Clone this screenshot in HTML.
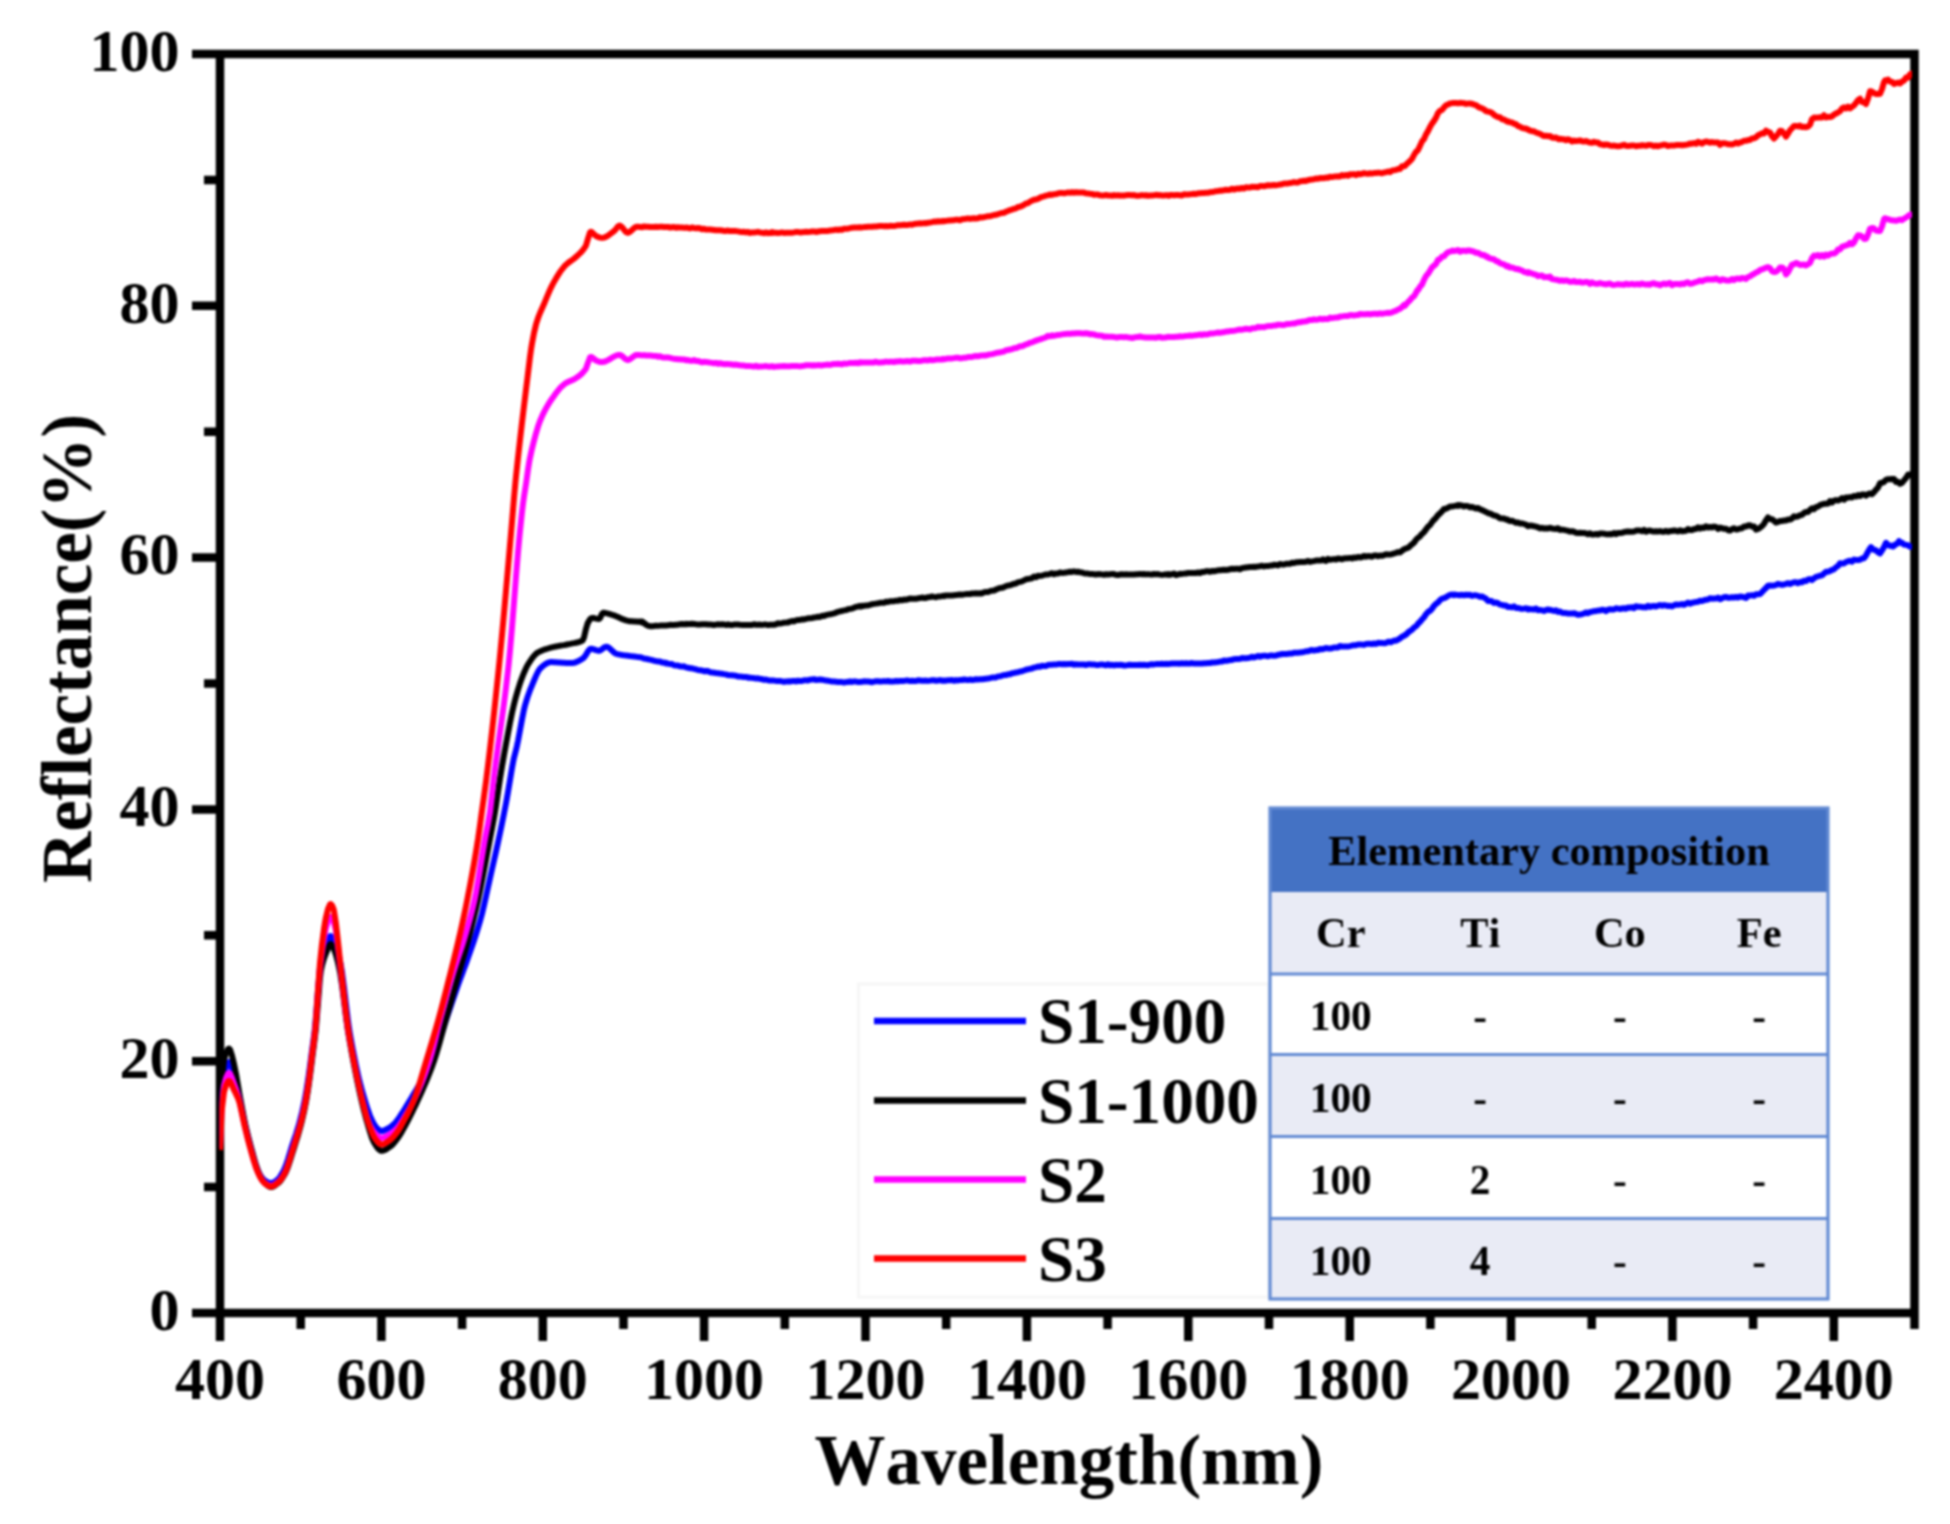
<!DOCTYPE html>
<html lang="en"><head><meta charset="utf-8"><title>Reflectance spectra</title>
<style>
html,body{margin:0;padding:0;background:#fff;}
body{width:1950px;height:1524px;overflow:hidden;}
svg{display:block;filter:blur(1.1px);}
text{font-family:"Liberation Serif","Times New Roman",serif;font-weight:bold;fill:#000;font-kerning:none;}
.tick text{font-size:60px;}
.ttl{font-size:71px;}
.leg text{font-size:65.2px;}
.tb text{font-size:42.4px;}
.tb text.td{font-size:41.3px;}
</style></head>
<body>
<svg width="1950" height="1524" viewBox="0 0 1950 1524">
<rect width="1950" height="1524" fill="#fff"/>
<g stroke="#000" stroke-width="8.5" fill="none" stroke-linecap="butt">
<path d="M192.0 54.0 H1918.75 M192.0 1313.0 H1918.75 M220.0 49.75 V1341.0 M1914.5 49.75 V1329.0"/>
<path d="M204.0 1187.1 H220.0 M192.0 1061.2 H220.0 M204.0 935.3 H220.0 M192.0 809.4 H220.0 M204.0 683.5 H220.0 M192.0 557.6 H220.0 M204.0 431.7 H220.0 M192.0 305.8 H220.0 M204.0 179.9 H220.0"/>
<path d="M300.7 1313.0 V1329.0 M381.4 1313.0 V1341.0 M462.1 1313.0 V1329.0 M542.8 1313.0 V1341.0 M623.5 1313.0 V1329.0 M704.1 1313.0 V1341.0 M784.8 1313.0 V1329.0 M865.5 1313.0 V1341.0 M946.2 1313.0 V1329.0 M1026.9 1313.0 V1341.0 M1107.6 1313.0 V1329.0 M1188.3 1313.0 V1341.0 M1269.0 1313.0 V1329.0 M1349.7 1313.0 V1341.0 M1430.4 1313.0 V1329.0 M1511.0 1313.0 V1341.0 M1591.7 1313.0 V1329.0 M1672.4 1313.0 V1341.0 M1753.1 1313.0 V1329.0 M1833.8 1313.0 V1341.0"/>
</g>
<g class="tick">
<text x="179.5" y="1329.8" text-anchor="end">0</text>
<text x="179.5" y="1078.0" text-anchor="end">20</text>
<text x="179.5" y="826.2" text-anchor="end">40</text>
<text x="179.5" y="574.4" text-anchor="end">60</text>
<text x="179.5" y="322.6" text-anchor="end">80</text>
<text x="179.5" y="70.8" text-anchor="end">100</text>
<text x="220.0" y="1399" text-anchor="middle">400</text>
<text x="381.4" y="1399" text-anchor="middle">600</text>
<text x="542.8" y="1399" text-anchor="middle">800</text>
<text x="704.1" y="1399" text-anchor="middle">1000</text>
<text x="865.5" y="1399" text-anchor="middle">1200</text>
<text x="1026.9" y="1399" text-anchor="middle">1400</text>
<text x="1188.3" y="1399" text-anchor="middle">1600</text>
<text x="1349.7" y="1399" text-anchor="middle">1800</text>
<text x="1511.0" y="1399" text-anchor="middle">2000</text>
<text x="1672.4" y="1399" text-anchor="middle">2200</text>
<text x="1833.8" y="1399" text-anchor="middle">2400</text>
</g>
<text class="ttl" x="1069" y="1484" text-anchor="middle">Wavelength(nm)</text>
<text class="ttl" transform="translate(91 648.5) rotate(-90)" text-anchor="middle">Reflectance(%)</text>
<clipPath id="pc"><rect x="219.5" y="58" width="1692.5" height="1255"/></clipPath>
<g fill="none" stroke-width="6" stroke-linejoin="round" stroke-linecap="butt" clip-path="url(#pc)">
<path stroke="#0000ff" d="M220.0 1135.0 L221.5 1100.0 L222.0 1093.1 L224.0 1075.0 L226.0 1067.2 L228.0 1062.6 L229.0 1062.0 L230.0 1062.8 L232.0 1068.2 L234.0 1075.0 L236.0 1082.1 L238.0 1090.4 L239.5 1097.0 L240.0 1099.3 L242.0 1109.5 L244.0 1119.8 L244.8 1123.5 L246.0 1128.7 L248.0 1136.8 L250.0 1144.4 L250.7 1147.0 L252.0 1151.8 L254.0 1159.2 L256.0 1165.9 L258.0 1171.0 L260.0 1174.8 L262.0 1177.9 L264.0 1180.0 L266.0 1181.4 L268.0 1182.5 L270.0 1183.1 L270.9 1183.2 L272.0 1183.1 L274.0 1182.2 L276.0 1180.9 L277.5 1179.7 L278.0 1179.3 L280.0 1176.9 L282.0 1173.7 L284.0 1170.0 L286.0 1165.2 L288.0 1159.1 L290.0 1152.5 L292.0 1146.0 L294.0 1140.0 L296.0 1134.1 L298.0 1127.7 L299.2 1123.5 L300.0 1120.5 L302.0 1112.5 L304.0 1103.5 L304.7 1100.0 L306.0 1092.9 L308.0 1080.3 L308.5 1077.0 L310.0 1066.0 L311.6 1053.6 L312.0 1050.6 L314.0 1035.9 L314.7 1030.0 L316.0 1016.0 L318.0 989.8 L320.0 968.0 L320.6 964.0 L322.0 957.3 L324.0 950.1 L326.0 944.7 L326.3 944.0 L328.0 939.8 L330.0 936.3 L330.7 936.0 L332.0 937.1 L334.0 941.5 L335.0 944.0 L336.0 946.6 L338.0 953.1 L340.0 961.2 L340.6 964.0 L342.0 972.1 L344.0 987.3 L346.0 1004.4 L348.0 1020.9 L349.3 1030.0 L350.0 1034.3 L352.0 1045.4 L353.6 1053.6 L354.0 1055.6 L356.0 1065.6 L358.0 1074.7 L358.6 1077.3 L360.0 1082.9 L362.0 1090.4 L364.0 1097.3 L364.2 1098.0 L366.0 1104.0 L368.0 1110.3 L370.0 1115.8 L370.5 1117.0 L372.0 1120.3 L374.0 1124.2 L376.0 1127.0 L378.0 1129.0 L380.0 1130.6 L381.5 1131.0 L382.0 1131.0 L384.0 1130.5 L386.0 1129.6 L388.0 1128.5 L390.0 1127.3 L392.0 1125.8 L394.0 1124.0 L395.0 1123.0 L396.0 1121.9 L398.0 1119.3 L400.0 1116.3 L401.5 1114.0 L402.0 1113.3 L404.0 1110.2 L406.0 1106.9 L408.0 1103.6 L410.0 1100.3 L412.0 1096.9 L412.5 1096.0 L414.0 1093.5 L416.0 1090.2 L418.0 1086.9 L420.0 1083.6 L422.0 1080.3 L424.0 1076.9 L426.0 1073.3 L428.0 1069.5 L430.0 1065.5 L432.0 1061.3 L433.0 1059.0 L434.0 1056.6 L436.0 1051.2 L438.0 1045.3 L440.0 1039.0 L442.0 1032.5 L444.0 1026.1 L446.0 1020.0 L448.0 1014.1 L450.0 1008.2 L452.0 1002.3 L454.0 996.5 L456.0 990.7 L458.0 985.0 L460.0 979.5 L462.0 974.1 L464.0 968.8 L466.0 963.4 L468.0 957.8 L468.3 956.9 L470.0 952.0 L472.0 946.2 L474.0 940.4 L476.0 934.3 L478.0 927.9 L480.0 921.1 L481.0 917.5 L482.0 913.7 L484.0 905.3 L486.0 896.3 L488.0 887.1 L490.0 878.0 L492.0 869.2 L494.0 860.4 L496.0 851.5 L498.0 842.4 L498.8 838.7 L500.0 833.0 L502.0 823.4 L504.0 813.5 L506.0 803.2 L506.7 799.4 L508.0 791.9 L510.0 780.0 L512.0 768.1 L513.5 760.0 L514.0 757.7 L516.0 749.9 L516.9 746.2 L518.0 741.0 L520.0 730.3 L522.0 719.4 L524.0 709.5 L525.1 705.1 L526.0 702.0 L528.0 695.7 L530.0 690.2 L532.0 685.3 L532.3 684.6 L534.0 680.5 L536.0 675.8 L538.0 671.7 L540.0 668.7 L540.5 668.2 L542.0 666.8 L544.0 665.1 L546.0 663.7 L548.0 662.7 L550.0 662.2 L550.8 662.1 L552.0 662.1 L554.0 662.2 L556.0 662.3 L558.0 662.4 L560.0 662.5 L562.0 662.7 L564.0 662.8 L566.0 662.9 L568.0 663.0 L570.0 663.1 L571.3 663.1 L572.0 663.1 L574.0 662.8 L576.0 662.1 L578.0 661.3 L580.0 660.2 L582.0 658.9 L583.6 657.9 L584.0 657.6 L586.0 654.8 L588.0 651.3 L590.0 649.0 L590.8 648.7 L592.0 648.8 L594.0 649.4 L596.0 650.2 L598.0 650.7 L599.0 650.8 L600.0 650.6 L602.0 649.3 L604.0 647.6 L606.0 646.7 L606.2 646.7 L608.0 647.2 L610.0 648.7 L612.0 650.6 L614.0 652.4 L616.0 653.7 L616.4 653.8 L618.0 654.2 L620.0 654.6 L622.0 655.0 L624.0 655.3 L626.0 655.5 L628.0 655.7 L630.0 656.0 L632.0 656.2 L634.0 656.4 L636.0 656.7 L636.9 656.9 L638.0 657.1 L640.0 657.2 L642.0 657.6 L644.0 658.6 L646.0 658.8 L648.0 659.2 L650.0 659.6 L652.0 660.1 L654.0 660.7 L656.0 661.1 L658.0 661.5 L660.0 661.6 L662.0 662.5 L664.0 662.6 L665.6 663.4 L666.0 662.9 L668.0 663.6 L670.0 664.0 L672.0 664.1 L674.0 665.3 L676.0 665.6 L678.0 665.6 L680.0 666.3 L682.0 666.6 L684.0 666.3 L686.0 667.4 L688.0 667.8 L690.0 668.2 L692.0 668.3 L694.0 668.9 L696.0 669.3 L698.0 670.0 L700.0 670.2 L702.0 670.5 L704.0 671.2 L706.0 671.0 L706.7 671.2 L708.0 671.1 L710.0 672.2 L712.0 672.4 L714.0 672.7 L716.0 673.0 L718.0 673.2 L720.0 673.5 L722.0 673.7 L724.0 674.1 L726.0 674.4 L728.0 675.1 L730.0 675.2 L732.0 675.3 L734.0 675.5 L736.0 675.7 L738.0 676.6 L740.0 676.6 L742.0 676.7 L744.0 676.9 L746.0 676.9 L747.7 677.4 L748.0 677.7 L750.0 677.6 L752.0 677.9 L754.0 678.1 L756.0 678.5 L758.0 678.3 L760.0 678.9 L762.0 679.1 L764.0 679.8 L766.0 679.6 L768.0 680.2 L770.0 680.6 L772.0 680.4 L774.0 680.6 L776.0 680.9 L778.0 681.1 L780.0 681.0 L782.0 681.4 L784.0 681.9 L786.0 681.4 L788.0 681.4 L788.7 681.2 L790.0 681.6 L792.0 681.1 L794.0 681.0 L796.0 681.4 L798.0 680.7 L800.0 681.0 L802.0 680.9 L804.0 680.3 L806.0 680.2 L808.0 680.4 L810.0 679.7 L812.0 679.4 L814.0 679.2 L815.4 679.5 L816.0 679.9 L818.0 679.8 L820.0 679.5 L822.0 679.7 L824.0 680.1 L826.0 680.6 L828.0 680.7 L830.0 681.1 L832.0 681.5 L834.0 681.6 L836.0 681.8 L838.0 682.0 L840.0 682.0 L842.0 682.1 L844.0 682.5 L846.0 682.1 L848.0 682.0 L850.0 681.5 L852.0 682.0 L854.0 681.4 L856.0 681.5 L858.0 682.1 L860.0 682.0 L862.0 681.8 L864.0 681.3 L866.0 681.6 L868.0 681.5 L870.0 681.8 L872.0 682.2 L874.0 681.6 L876.0 681.3 L878.0 681.2 L880.0 681.4 L882.0 681.4 L884.0 681.1 L886.0 681.4 L888.0 681.0 L890.0 681.5 L892.0 681.5 L894.0 681.4 L896.0 681.0 L898.0 681.2 L900.0 681.0 L902.0 680.9 L904.0 680.9 L906.0 680.6 L908.0 680.5 L910.0 681.1 L912.0 680.8 L914.0 680.9 L916.0 681.0 L918.0 680.3 L920.0 680.5 L922.0 680.7 L924.0 680.8 L926.0 680.6 L928.0 680.9 L930.0 680.6 L932.0 680.3 L934.0 680.3 L936.0 680.7 L938.0 680.6 L940.0 680.0 L942.0 680.7 L944.0 680.5 L946.0 680.7 L948.0 680.2 L950.0 680.2 L952.0 680.0 L954.0 680.8 L956.0 680.1 L958.0 680.5 L960.0 679.9 L962.0 680.0 L964.0 679.5 L966.0 679.8 L968.0 680.1 L970.0 679.5 L972.0 680.0 L974.0 679.7 L976.0 679.3 L978.0 679.4 L980.0 679.3 L982.0 679.3 L984.0 679.0 L986.0 678.7 L988.0 678.6 L990.0 678.1 L992.0 677.6 L994.0 677.6 L996.0 677.4 L998.0 676.4 L1000.0 676.3 L1002.0 675.7 L1004.0 675.1 L1006.0 675.1 L1008.0 674.3 L1010.0 674.3 L1012.0 673.3 L1014.0 673.1 L1014.9 672.7 L1016.0 672.4 L1018.0 672.2 L1020.0 671.5 L1022.0 671.2 L1024.0 670.5 L1026.0 669.7 L1028.0 669.3 L1030.0 668.8 L1032.0 668.5 L1034.0 667.6 L1036.0 667.3 L1038.0 666.5 L1040.0 666.7 L1041.5 666.0 L1042.0 665.8 L1044.0 665.9 L1046.0 665.9 L1048.0 665.0 L1050.0 664.8 L1052.0 664.7 L1054.0 664.4 L1056.0 664.6 L1058.0 664.1 L1060.0 664.1 L1062.0 664.3 L1064.0 664.0 L1066.0 664.3 L1068.0 664.0 L1070.0 663.9 L1072.0 663.8 L1074.0 664.7 L1076.0 664.2 L1078.0 664.4 L1080.0 664.4 L1082.0 664.5 L1084.0 664.5 L1086.0 665.0 L1088.0 664.3 L1090.0 664.2 L1092.0 664.4 L1094.0 664.4 L1096.0 664.9 L1098.0 665.0 L1100.0 664.6 L1102.0 664.5 L1104.0 664.8 L1106.0 665.3 L1108.0 664.3 L1110.0 665.2 L1112.0 664.8 L1114.0 665.4 L1116.0 664.8 L1118.0 665.1 L1120.0 664.8 L1122.0 664.9 L1124.0 665.6 L1126.0 665.4 L1127.7 665.1 L1128.0 665.0 L1130.0 664.7 L1132.0 665.1 L1134.0 665.1 L1136.0 665.1 L1138.0 665.0 L1140.0 664.7 L1142.0 664.9 L1144.0 664.8 L1146.0 665.1 L1148.0 665.2 L1150.0 664.5 L1152.0 664.3 L1154.0 664.4 L1156.0 664.1 L1158.0 664.0 L1160.0 664.1 L1162.0 663.7 L1164.0 664.1 L1166.0 663.8 L1168.0 663.9 L1170.0 663.7 L1172.0 663.5 L1174.0 663.4 L1176.0 663.5 L1178.0 663.4 L1179.0 663.7 L1180.0 663.6 L1182.0 663.2 L1184.0 663.6 L1186.0 663.2 L1188.0 663.4 L1190.0 663.5 L1192.0 663.0 L1194.0 663.6 L1196.0 663.6 L1198.0 663.6 L1200.0 663.5 L1202.0 663.5 L1204.0 663.2 L1206.0 663.3 L1208.0 663.1 L1210.0 663.1 L1212.0 662.4 L1214.0 662.6 L1216.0 662.3 L1218.0 662.0 L1220.0 661.6 L1222.0 661.6 L1224.0 660.5 L1226.0 660.9 L1228.0 660.5 L1230.0 660.1 L1232.0 659.9 L1234.0 659.2 L1236.0 659.1 L1238.0 659.1 L1240.0 658.8 L1241.0 658.6 L1242.0 657.9 L1244.0 658.3 L1246.0 658.3 L1248.0 658.1 L1250.0 657.6 L1252.0 656.8 L1254.0 657.5 L1256.0 656.9 L1258.0 655.9 L1260.0 656.7 L1262.0 655.9 L1264.0 655.8 L1266.0 655.8 L1268.0 656.3 L1270.0 655.5 L1272.0 655.5 L1274.0 655.8 L1276.0 655.6 L1278.0 654.8 L1280.0 654.5 L1282.0 654.0 L1284.0 653.9 L1286.0 654.1 L1288.0 653.8 L1290.0 653.5 L1292.0 653.6 L1294.0 652.7 L1296.0 652.7 L1298.0 652.7 L1300.0 652.4 L1302.0 652.3 L1304.0 651.8 L1306.0 651.3 L1308.0 651.3 L1310.0 650.5 L1312.0 650.0 L1314.0 650.6 L1316.0 650.1 L1318.0 650.0 L1320.0 649.0 L1322.0 649.2 L1323.0 649.0 L1324.0 648.8 L1326.0 648.0 L1328.0 648.4 L1330.0 648.6 L1332.0 648.2 L1334.0 647.5 L1336.0 647.5 L1338.0 647.5 L1340.0 645.9 L1342.0 646.6 L1344.0 646.6 L1346.0 646.4 L1348.0 646.5 L1350.0 646.1 L1352.0 645.5 L1354.0 645.3 L1356.0 645.2 L1358.0 644.5 L1360.0 644.5 L1362.0 644.6 L1364.0 644.9 L1366.0 643.9 L1368.0 643.8 L1370.0 643.7 L1372.0 644.1 L1374.0 643.4 L1376.0 643.9 L1378.0 642.8 L1380.0 643.0 L1382.0 642.9 L1384.0 643.2 L1386.0 643.1 L1388.0 641.8 L1390.0 641.8 L1390.8 642.2 L1392.0 641.6 L1394.0 640.6 L1396.0 640.8 L1398.0 639.6 L1400.0 638.4 L1402.0 636.7 L1404.0 636.0 L1405.1 634.8 L1406.0 634.8 L1408.0 632.5 L1410.0 631.0 L1412.0 629.7 L1414.0 627.5 L1416.0 626.2 L1417.4 624.7 L1418.0 623.6 L1420.0 621.9 L1422.0 619.3 L1424.0 617.4 L1426.0 614.2 L1428.0 612.0 L1429.7 610.8 L1430.0 610.9 L1432.0 608.7 L1434.0 605.8 L1436.0 603.8 L1438.0 602.5 L1440.0 600.1 L1442.0 598.6 L1444.0 598.1 L1446.0 597.3 L1448.0 595.9 L1450.0 594.9 L1452.0 594.5 L1454.0 595.2 L1454.4 594.6 L1456.0 594.8 L1458.0 595.0 L1460.0 595.2 L1462.0 594.8 L1464.0 595.3 L1466.0 594.7 L1468.0 595.0 L1470.0 594.8 L1472.0 595.9 L1474.0 595.4 L1474.9 595.2 L1476.0 595.4 L1478.0 595.9 L1480.0 596.9 L1482.0 596.5 L1484.0 597.6 L1486.0 598.7 L1488.0 600.9 L1490.0 601.0 L1491.3 600.9 L1492.0 601.6 L1494.0 602.9 L1496.0 602.5 L1498.0 603.2 L1500.0 604.6 L1502.0 604.9 L1504.0 605.6 L1506.0 605.6 L1507.7 607.1 L1508.0 607.1 L1510.0 606.9 L1512.0 607.4 L1514.0 606.4 L1516.0 608.0 L1518.0 607.9 L1520.0 608.5 L1522.0 608.9 L1524.0 608.6 L1526.0 608.2 L1528.0 609.4 L1528.2 608.8 L1530.0 609.2 L1532.0 609.2 L1534.0 609.4 L1536.0 608.5 L1538.0 610.3 L1540.0 609.9 L1542.0 610.4 L1544.0 611.0 L1546.0 610.1 L1548.0 609.4 L1548.7 609.9 L1550.0 609.8 L1552.0 610.4 L1554.0 611.0 L1556.0 610.3 L1558.0 611.9 L1560.0 611.4 L1562.0 612.7 L1564.0 612.9 L1566.0 613.1 L1568.0 613.5 L1570.0 613.5 L1572.0 613.6 L1574.0 613.2 L1576.0 613.9 L1578.0 614.8 L1580.0 614.6 L1582.0 614.1 L1584.0 613.5 L1586.0 612.4 L1588.0 613.2 L1590.0 612.0 L1592.0 611.7 L1594.0 611.2 L1596.0 611.1 L1598.0 610.5 L1600.0 610.5 L1602.0 609.7 L1604.0 609.9 L1606.0 611.1 L1608.0 609.6 L1610.0 609.3 L1612.0 609.5 L1614.0 609.5 L1616.0 608.3 L1618.0 608.6 L1620.0 609.0 L1622.0 608.5 L1624.0 608.2 L1626.0 608.8 L1628.0 607.5 L1630.0 607.7 L1632.0 607.3 L1634.0 608.2 L1636.0 606.2 L1638.0 606.8 L1640.0 606.7 L1642.0 607.2 L1644.0 607.1 L1646.0 607.4 L1648.0 605.7 L1650.0 606.9 L1652.0 606.2 L1654.0 606.0 L1656.0 606.5 L1658.0 605.7 L1660.0 605.0 L1662.0 605.8 L1664.0 605.1 L1666.0 605.5 L1668.0 606.0 L1670.0 605.8 L1672.0 606.4 L1674.0 605.3 L1676.0 604.4 L1678.0 604.7 L1680.0 604.5 L1682.0 604.1 L1684.0 604.8 L1686.0 603.8 L1688.0 602.6 L1690.0 603.7 L1692.0 602.8 L1694.0 602.5 L1696.0 601.9 L1698.0 601.7 L1700.0 600.8 L1702.0 601.1 L1704.0 600.2 L1706.0 599.8 L1708.0 599.5 L1710.0 598.2 L1712.0 598.7 L1714.0 598.5 L1716.0 598.6 L1718.0 597.6 L1720.0 599.2 L1722.0 598.2 L1724.0 597.3 L1726.0 596.9 L1728.0 597.7 L1730.0 597.7 L1732.0 597.2 L1734.0 597.5 L1736.0 597.0 L1738.0 597.5 L1740.0 596.6 L1742.0 596.8 L1744.0 597.2 L1746.0 598.0 L1748.0 595.6 L1750.0 595.7 L1752.0 595.2 L1754.0 595.8 L1756.0 594.3 L1758.0 594.2 L1760.0 594.0 L1762.0 592.1 L1764.0 589.9 L1766.0 588.0 L1768.0 585.7 L1770.0 585.5 L1772.0 585.7 L1774.0 585.6 L1776.0 585.0 L1778.0 583.8 L1780.0 584.3 L1782.0 584.9 L1784.0 584.5 L1786.0 583.9 L1788.0 583.2 L1790.0 583.9 L1792.0 583.0 L1794.0 582.3 L1796.0 582.3 L1798.0 583.3 L1800.0 582.1 L1802.0 582.3 L1804.0 580.7 L1806.0 581.1 L1808.0 579.5 L1810.0 579.1 L1812.0 580.1 L1814.0 578.3 L1816.0 576.8 L1818.0 576.3 L1820.0 575.7 L1822.0 575.4 L1824.0 573.5 L1826.0 571.8 L1828.0 571.8 L1830.0 571.0 L1832.0 569.9 L1834.0 569.3 L1836.0 567.2 L1838.0 566.0 L1840.0 563.3 L1842.0 563.4 L1844.0 563.4 L1846.0 562.0 L1848.0 561.2 L1850.0 560.8 L1852.0 561.6 L1854.0 559.6 L1856.0 559.9 L1858.0 559.9 L1860.0 559.7 L1862.0 558.4 L1864.0 558.2 L1866.0 555.4 L1868.0 551.7 L1870.0 548.4 L1871.0 547.2 L1872.0 548.2 L1874.0 549.9 L1876.0 550.3 L1878.0 552.2 L1880.0 553.4 L1882.0 550.3 L1884.0 547.1 L1886.0 542.8 L1887.0 543.8 L1888.0 544.8 L1890.0 545.9 L1892.0 545.6 L1893.0 546.5 L1894.0 545.8 L1896.0 544.1 L1898.0 543.3 L1899.0 541.1 L1900.0 542.8 L1902.0 542.7 L1904.0 544.6 L1906.0 544.9 L1908.0 545.2 L1909.0 546.2 L1910.0 546.8 L1912.0 546.7 L1914.0 547.3"/>
<path stroke="#000000" d="M220.0 1120.0 L221.5 1085.0 L222.0 1078.1 L224.0 1060.0 L226.0 1053.1 L228.0 1049.1 L229.0 1048.5 L230.0 1049.5 L232.0 1055.7 L234.0 1064.0 L236.0 1073.8 L238.0 1085.6 L239.8 1096.0 L240.0 1097.1 L242.0 1107.9 L244.0 1118.3 L245.3 1124.5 L246.0 1127.6 L248.0 1135.9 L250.0 1143.6 L251.2 1148.0 L252.0 1150.9 L254.0 1158.2 L256.0 1165.0 L258.0 1170.8 L258.7 1172.5 L260.0 1175.4 L262.0 1179.2 L264.0 1182.2 L264.5 1182.7 L266.0 1184.1 L268.0 1185.8 L270.0 1186.9 L271.0 1187.0 L272.0 1186.9 L274.0 1186.1 L276.0 1184.7 L278.0 1183.2 L280.0 1181.3 L282.0 1178.7 L284.0 1175.5 L285.4 1173.0 L286.0 1171.8 L288.0 1166.9 L290.0 1160.9 L292.0 1154.4 L294.0 1148.0 L296.0 1141.7 L298.0 1135.3 L300.0 1128.3 L301.0 1124.5 L302.0 1120.5 L304.0 1111.9 L306.0 1102.0 L306.2 1100.9 L308.0 1089.9 L309.8 1077.3 L310.0 1075.8 L312.0 1060.0 L312.8 1053.6 L314.0 1044.5 L315.8 1030.0 L316.0 1028.1 L318.0 1002.9 L320.0 977.7 L321.0 970.0 L322.0 965.4 L324.0 958.4 L326.0 953.2 L326.5 952.0 L328.0 948.2 L330.0 944.4 L330.7 944.0 L332.0 945.1 L334.0 949.4 L335.0 952.0 L336.0 954.9 L338.0 962.5 L339.6 970.0 L340.0 972.1 L342.0 985.2 L344.0 1001.0 L346.0 1017.2 L347.8 1030.0 L348.0 1031.3 L350.0 1043.1 L351.9 1053.6 L352.0 1054.1 L354.0 1064.7 L356.0 1074.8 L356.5 1077.3 L358.0 1084.6 L360.0 1093.9 L361.6 1100.9 L362.0 1102.6 L364.0 1110.7 L366.0 1118.3 L367.8 1124.5 L368.0 1125.2 L370.0 1131.9 L372.0 1138.0 L374.0 1142.5 L376.0 1145.7 L378.0 1148.5 L380.0 1150.3 L381.5 1150.8 L382.0 1150.8 L384.0 1150.3 L386.0 1149.4 L388.0 1148.1 L390.0 1146.8 L392.0 1145.1 L394.0 1143.0 L396.0 1140.4 L398.0 1137.7 L398.5 1137.0 L400.0 1134.8 L402.0 1131.4 L404.0 1127.8 L405.5 1125.0 L406.0 1124.1 L408.0 1120.3 L410.0 1116.4 L412.0 1112.4 L414.0 1108.3 L416.0 1104.1 L416.5 1103.0 L418.0 1099.7 L420.0 1095.4 L422.0 1091.0 L424.0 1086.4 L426.0 1081.8 L428.0 1076.9 L430.0 1071.9 L432.0 1066.6 L434.0 1061.0 L436.0 1054.9 L438.0 1048.2 L440.0 1041.1 L442.0 1033.8 L444.0 1026.5 L445.8 1020.0 L446.0 1019.3 L448.0 1012.2 L450.0 1005.1 L452.0 997.9 L454.0 990.8 L456.0 983.6 L457.0 980.0 L458.0 976.4 L460.0 969.3 L462.0 962.3 L464.0 955.2 L466.0 948.0 L468.0 940.6 L469.2 936.0 L470.0 932.9 L472.0 925.1 L474.0 917.1 L476.0 908.8 L478.0 900.0 L480.0 890.6 L482.0 880.7 L484.0 870.4 L486.0 859.9 L488.0 849.3 L490.0 838.7 L492.0 828.4 L494.0 817.7 L495.0 812.0 L496.0 805.7 L498.0 792.0 L499.8 780.0 L500.0 778.8 L502.0 766.6 L504.0 755.0 L505.6 746.2 L506.0 744.0 L508.0 733.2 L510.0 722.7 L512.0 712.9 L513.8 705.1 L514.0 704.3 L516.0 696.6 L518.0 689.6 L520.0 683.3 L521.0 680.5 L522.0 677.8 L524.0 672.7 L526.0 668.2 L528.0 664.4 L528.2 664.1 L530.0 661.3 L532.0 658.3 L534.0 655.8 L536.0 653.8 L537.4 652.8 L538.0 652.4 L540.0 651.4 L542.0 650.5 L544.0 649.7 L546.0 649.1 L548.0 648.5 L550.0 647.9 L550.8 647.7 L552.0 647.4 L554.0 646.9 L556.0 646.5 L558.0 646.1 L560.0 645.7 L562.0 645.4 L564.0 645.1 L566.0 644.7 L568.0 644.3 L570.0 643.9 L571.3 643.6 L572.0 643.4 L574.0 643.1 L576.0 642.7 L578.0 642.3 L580.0 641.7 L582.0 640.8 L582.6 640.5 L584.0 637.4 L586.0 628.8 L587.7 623.1 L588.0 622.6 L590.0 619.2 L591.8 617.9 L592.0 617.9 L594.0 618.1 L596.0 618.6 L598.0 618.9 L599.0 619.0 L600.0 618.1 L602.0 613.9 L603.1 612.8 L604.0 612.8 L606.0 613.1 L608.0 613.6 L610.0 614.2 L612.0 614.8 L612.3 614.9 L614.0 615.4 L616.0 616.2 L618.0 617.1 L620.0 618.0 L622.0 618.9 L624.0 619.7 L626.0 620.4 L628.0 620.9 L628.7 621.0 L630.0 621.2 L632.0 621.3 L634.0 621.4 L636.0 621.5 L638.0 621.7 L640.0 621.5 L642.0 622.5 L642.1 621.6 L644.0 622.9 L646.0 624.6 L648.0 625.8 L649.2 626.0 L650.0 626.2 L652.0 626.2 L654.0 626.1 L656.0 625.6 L658.0 625.9 L660.0 625.6 L662.0 625.5 L664.0 625.5 L666.0 625.5 L668.0 625.3 L670.0 624.8 L672.0 625.0 L674.0 624.9 L676.0 624.8 L678.0 624.7 L680.0 624.2 L682.0 624.1 L684.0 624.3 L686.0 623.8 L686.2 624.2 L688.0 624.0 L690.0 624.0 L692.0 623.7 L694.0 623.9 L696.0 624.2 L698.0 624.4 L700.0 624.5 L702.0 624.3 L704.0 624.3 L706.0 624.2 L708.0 624.5 L710.0 624.4 L712.0 624.7 L714.0 625.0 L716.0 624.6 L718.0 624.3 L720.0 624.4 L722.0 624.3 L724.0 624.4 L726.0 625.0 L727.2 624.8 L728.0 624.3 L730.0 624.9 L732.0 625.0 L734.0 624.6 L736.0 624.5 L738.0 624.6 L740.0 624.8 L742.0 624.9 L744.0 625.0 L746.0 625.0 L748.0 625.0 L750.0 625.0 L752.0 624.9 L754.0 624.3 L756.0 624.7 L758.0 624.8 L760.0 624.6 L762.0 624.9 L764.0 624.6 L766.0 624.5 L768.0 625.1 L768.2 624.9 L770.0 624.7 L772.0 624.8 L774.0 624.7 L776.0 624.3 L778.0 623.3 L780.0 623.4 L782.0 623.2 L784.0 622.7 L786.0 622.6 L788.0 622.4 L790.0 621.6 L792.0 621.0 L794.0 621.4 L796.0 620.4 L798.0 619.9 L799.0 620.1 L800.0 619.9 L802.0 619.3 L804.0 619.4 L806.0 618.8 L808.0 618.3 L810.0 618.3 L812.0 618.1 L814.0 617.4 L816.0 617.2 L818.0 616.8 L820.0 617.1 L822.0 615.8 L824.0 615.9 L826.0 615.1 L828.0 614.6 L830.0 614.3 L832.0 613.8 L834.0 613.3 L836.0 612.6 L838.0 611.8 L840.0 611.3 L842.0 611.0 L844.0 610.4 L846.0 610.1 L848.0 609.3 L850.0 608.9 L852.0 608.6 L854.0 607.7 L856.0 606.9 L858.0 606.5 L860.0 606.0 L861.0 606.6 L862.0 605.8 L864.0 605.9 L866.0 605.4 L868.0 605.4 L870.0 604.8 L872.0 604.2 L874.0 603.9 L876.0 603.6 L878.0 603.3 L880.0 602.8 L882.0 602.7 L884.0 602.8 L886.0 601.7 L888.0 601.9 L890.0 601.3 L892.0 601.3 L894.0 601.2 L896.0 600.7 L898.0 600.7 L900.0 599.9 L902.0 600.3 L904.0 599.6 L906.0 599.7 L908.0 599.3 L910.0 598.4 L912.0 598.7 L914.0 598.7 L916.0 598.8 L918.0 598.3 L920.0 598.1 L922.0 597.5 L924.0 598.0 L926.0 597.9 L928.0 597.2 L930.0 597.0 L932.0 596.5 L934.0 596.9 L936.0 597.2 L938.0 596.5 L940.0 596.5 L942.0 596.1 L943.1 595.7 L944.0 596.2 L946.0 595.4 L948.0 595.5 L950.0 595.5 L952.0 595.5 L954.0 595.2 L956.0 595.1 L958.0 594.7 L960.0 594.5 L962.0 594.7 L964.0 594.4 L966.0 594.1 L968.0 594.0 L970.0 594.0 L972.0 593.5 L974.0 593.5 L976.0 593.2 L978.0 593.5 L980.0 593.3 L982.0 593.4 L984.0 592.2 L986.0 592.1 L988.0 592.0 L990.0 591.2 L992.0 590.7 L994.0 590.6 L996.0 589.5 L998.0 588.7 L1000.0 588.0 L1002.0 587.8 L1004.0 587.1 L1006.0 586.1 L1008.0 585.5 L1010.0 585.2 L1012.0 584.6 L1014.0 583.7 L1014.9 583.8 L1016.0 583.4 L1018.0 582.2 L1020.0 581.9 L1022.0 581.4 L1024.0 580.4 L1026.0 579.3 L1028.0 579.1 L1030.0 578.6 L1032.0 578.2 L1034.0 576.6 L1036.0 577.2 L1038.0 575.8 L1040.0 575.9 L1041.5 575.7 L1042.0 575.6 L1044.0 575.0 L1046.0 574.4 L1048.0 574.5 L1050.0 573.9 L1052.0 573.2 L1054.0 574.2 L1056.0 573.4 L1058.0 573.4 L1060.0 572.5 L1062.0 572.9 L1064.0 572.8 L1066.0 572.6 L1068.0 572.1 L1070.0 571.7 L1072.0 571.9 L1074.0 571.4 L1074.4 571.5 L1076.0 572.0 L1078.0 571.8 L1080.0 572.2 L1082.0 572.5 L1084.0 573.3 L1086.0 573.5 L1088.0 573.5 L1090.0 574.1 L1092.0 573.9 L1094.0 574.2 L1096.0 574.6 L1096.9 574.1 L1098.0 574.3 L1100.0 574.1 L1102.0 574.4 L1104.0 574.8 L1106.0 574.2 L1108.0 574.5 L1110.0 574.2 L1112.0 574.1 L1114.0 574.1 L1116.0 574.8 L1118.0 575.0 L1120.0 574.5 L1122.0 574.2 L1124.0 574.6 L1126.0 574.3 L1128.0 574.6 L1130.0 574.5 L1132.0 574.5 L1134.0 574.6 L1136.0 574.2 L1138.0 574.3 L1140.0 573.9 L1142.0 574.3 L1144.0 574.0 L1146.0 574.4 L1148.0 574.1 L1150.0 574.4 L1152.0 574.5 L1154.0 574.0 L1156.0 574.2 L1158.0 574.1 L1160.0 574.6 L1162.0 574.9 L1164.0 574.6 L1166.0 574.3 L1168.0 574.8 L1168.7 574.0 L1170.0 574.8 L1172.0 574.2 L1174.0 573.5 L1176.0 575.0 L1178.0 574.6 L1180.0 573.7 L1182.0 573.9 L1184.0 573.6 L1186.0 573.6 L1188.0 572.9 L1190.0 573.0 L1192.0 573.1 L1194.0 572.9 L1196.0 573.0 L1198.0 572.5 L1200.0 573.0 L1202.0 571.9 L1204.0 572.0 L1206.0 571.2 L1208.0 571.2 L1210.0 571.8 L1212.0 570.9 L1214.0 571.2 L1216.0 570.8 L1218.0 570.3 L1220.0 570.3 L1222.0 570.0 L1224.0 569.8 L1226.0 570.0 L1228.0 569.8 L1230.0 569.2 L1232.0 568.8 L1234.0 569.0 L1236.0 568.7 L1238.0 568.8 L1240.0 569.2 L1241.0 568.5 L1242.0 568.1 L1244.0 567.8 L1246.0 567.4 L1248.0 567.2 L1250.0 567.0 L1252.0 567.0 L1254.0 566.8 L1256.0 566.9 L1258.0 566.4 L1260.0 566.2 L1262.0 565.7 L1264.0 566.5 L1266.0 565.9 L1268.0 566.1 L1270.0 565.6 L1272.0 565.6 L1274.0 564.8 L1276.0 564.9 L1278.0 565.4 L1280.0 563.9 L1282.0 564.5 L1284.0 564.5 L1286.0 563.8 L1288.0 563.8 L1290.0 563.7 L1292.0 562.8 L1294.0 563.0 L1296.0 562.3 L1298.0 562.2 L1300.0 562.0 L1302.0 562.0 L1304.0 561.9 L1306.0 561.8 L1308.0 560.9 L1310.0 561.9 L1312.0 561.4 L1314.0 561.1 L1316.0 560.5 L1318.0 560.4 L1320.0 560.5 L1322.0 560.2 L1323.0 559.4 L1324.0 560.2 L1326.0 560.9 L1328.0 558.9 L1330.0 559.8 L1332.0 559.4 L1334.0 559.1 L1336.0 559.5 L1338.0 558.4 L1340.0 558.8 L1342.0 559.2 L1344.0 558.4 L1346.0 558.2 L1348.0 558.2 L1350.0 557.9 L1352.0 558.5 L1354.0 557.4 L1356.0 557.9 L1358.0 556.9 L1360.0 557.5 L1362.0 557.0 L1364.0 555.9 L1366.0 556.7 L1368.0 556.1 L1370.0 556.2 L1372.0 556.8 L1374.0 555.6 L1376.0 555.4 L1378.0 556.2 L1380.0 555.5 L1382.0 555.8 L1384.0 555.1 L1386.0 554.3 L1388.0 554.4 L1390.0 554.6 L1392.0 554.1 L1394.0 553.4 L1394.9 553.2 L1396.0 552.9 L1398.0 552.1 L1400.0 552.4 L1402.0 550.7 L1404.0 549.3 L1406.0 548.4 L1408.0 547.8 L1409.2 547.0 L1410.0 546.1 L1412.0 544.3 L1414.0 542.7 L1416.0 539.8 L1418.0 537.7 L1420.0 536.4 L1421.5 534.2 L1422.0 534.0 L1424.0 532.1 L1426.0 529.4 L1428.0 526.7 L1430.0 525.2 L1432.0 522.2 L1433.8 519.8 L1434.0 520.1 L1436.0 517.8 L1438.0 515.1 L1440.0 513.4 L1442.0 511.4 L1444.0 509.0 L1446.0 508.7 L1446.2 508.6 L1448.0 507.8 L1450.0 506.5 L1452.0 506.5 L1454.0 506.1 L1456.0 505.8 L1458.0 505.1 L1458.5 505.9 L1460.0 505.1 L1462.0 505.6 L1464.0 506.5 L1466.0 505.9 L1468.0 506.2 L1470.0 507.3 L1472.0 507.0 L1472.8 507.2 L1474.0 507.7 L1476.0 508.6 L1478.0 507.9 L1480.0 509.3 L1482.0 510.1 L1484.0 511.0 L1486.0 511.9 L1487.2 512.4 L1488.0 513.2 L1490.0 513.4 L1492.0 514.6 L1494.0 515.5 L1496.0 515.7 L1498.0 516.9 L1500.0 518.3 L1502.0 518.4 L1504.0 518.6 L1506.0 519.5 L1507.7 519.6 L1508.0 520.2 L1510.0 521.1 L1512.0 520.8 L1514.0 521.7 L1516.0 522.8 L1518.0 522.6 L1520.0 523.5 L1522.0 523.4 L1524.0 524.0 L1526.0 524.6 L1528.0 526.3 L1530.0 525.5 L1532.0 525.8 L1534.0 526.2 L1536.0 526.7 L1538.0 527.4 L1538.5 527.3 L1540.0 528.4 L1542.0 527.8 L1544.0 528.6 L1546.0 528.2 L1548.0 528.6 L1550.0 527.7 L1552.0 528.6 L1554.0 528.8 L1556.0 528.9 L1558.0 528.2 L1560.0 529.9 L1562.0 529.6 L1564.0 529.9 L1566.0 530.4 L1568.0 530.8 L1570.0 531.6 L1572.0 531.2 L1574.0 531.7 L1576.0 532.7 L1578.0 532.9 L1580.0 532.8 L1582.0 532.9 L1584.0 532.9 L1586.0 533.4 L1588.0 534.2 L1590.0 533.2 L1592.0 534.6 L1594.0 534.4 L1596.0 533.9 L1598.0 534.6 L1600.0 533.5 L1602.0 533.4 L1604.0 533.7 L1606.0 534.2 L1608.0 534.2 L1610.0 534.1 L1612.0 534.3 L1614.0 533.0 L1616.0 534.1 L1618.0 532.9 L1620.0 533.0 L1622.0 532.8 L1624.0 532.1 L1626.0 531.7 L1628.0 531.5 L1630.0 531.8 L1632.0 531.8 L1634.0 531.6 L1636.0 530.6 L1638.0 530.6 L1640.0 530.5 L1642.0 531.2 L1644.0 529.9 L1646.0 531.7 L1648.0 530.7 L1650.0 530.6 L1652.0 531.2 L1654.0 531.6 L1656.0 531.2 L1658.0 531.6 L1660.0 531.1 L1662.0 531.7 L1664.0 531.7 L1666.0 530.9 L1668.0 531.8 L1670.0 531.1 L1672.0 531.0 L1674.0 530.5 L1676.0 530.8 L1678.0 531.4 L1680.0 530.3 L1682.0 531.3 L1684.0 531.0 L1686.0 530.8 L1688.0 529.1 L1690.0 530.0 L1692.0 530.1 L1694.0 528.9 L1696.0 529.1 L1698.0 527.3 L1700.0 528.6 L1702.0 527.5 L1704.0 528.1 L1706.0 526.3 L1708.0 527.6 L1710.0 526.9 L1712.0 527.5 L1714.0 526.6 L1716.0 527.0 L1718.0 529.0 L1720.0 527.6 L1722.0 528.1 L1724.0 528.8 L1726.0 528.7 L1728.0 530.2 L1730.0 530.6 L1732.0 529.1 L1734.0 528.3 L1736.0 529.6 L1738.0 529.2 L1740.0 528.5 L1742.0 528.2 L1744.0 526.6 L1746.0 526.6 L1748.0 525.5 L1750.0 525.2 L1752.0 526.6 L1754.0 526.4 L1756.0 529.6 L1758.0 529.0 L1760.0 527.7 L1762.0 526.2 L1764.0 523.8 L1766.0 520.3 L1768.0 517.5 L1769.0 518.2 L1770.0 519.1 L1772.0 519.3 L1774.0 520.7 L1776.0 522.6 L1778.0 522.0 L1780.0 521.0 L1782.0 521.1 L1784.0 520.4 L1786.0 520.4 L1788.0 519.6 L1790.0 519.6 L1792.0 518.5 L1794.0 516.3 L1796.0 516.8 L1798.0 516.3 L1800.0 515.3 L1802.0 514.9 L1804.0 513.0 L1806.0 511.9 L1808.0 512.1 L1810.0 509.9 L1812.0 508.2 L1814.0 509.2 L1816.0 507.2 L1818.0 506.6 L1820.0 505.1 L1822.0 504.4 L1824.0 503.8 L1826.0 503.7 L1828.0 503.5 L1830.0 501.1 L1832.0 502.4 L1834.0 500.6 L1836.0 500.1 L1838.0 500.6 L1840.0 499.6 L1842.0 498.1 L1844.0 499.7 L1846.0 497.4 L1848.0 497.7 L1850.0 497.1 L1852.0 497.5 L1854.0 495.9 L1856.0 496.5 L1858.0 495.1 L1860.0 496.0 L1862.0 494.5 L1864.0 494.4 L1866.0 495.6 L1868.0 494.1 L1870.0 493.4 L1872.0 494.2 L1874.0 492.2 L1876.0 489.6 L1878.0 487.6 L1880.0 483.2 L1882.0 482.8 L1884.0 481.9 L1886.0 479.8 L1888.0 479.2 L1890.0 479.3 L1892.0 479.0 L1894.0 479.1 L1896.0 481.9 L1898.0 481.8 L1900.0 483.7 L1902.0 482.7 L1904.0 480.4 L1906.0 478.0 L1908.0 474.7 L1909.0 475.4 L1910.0 474.6 L1912.0 473.8 L1914.0 473.1"/>
<path stroke="#ff00ff" d="M220.0 1148.0 L221.5 1110.0 L222.0 1103.2 L224.0 1086.0 L226.0 1078.3 L228.0 1073.7 L229.0 1073.0 L230.0 1073.7 L232.0 1078.3 L234.0 1084.0 L236.0 1089.4 L238.0 1095.5 L239.0 1099.0 L240.0 1103.0 L242.0 1112.6 L244.0 1122.2 L244.3 1123.5 L246.0 1130.7 L248.0 1138.7 L250.0 1146.3 L250.2 1147.0 L252.0 1153.6 L254.0 1160.7 L256.0 1167.1 L257.9 1172.0 L258.0 1172.2 L260.0 1176.3 L262.0 1179.7 L264.0 1182.0 L266.0 1183.6 L268.0 1184.9 L270.0 1185.6 L270.9 1185.7 L272.0 1185.6 L274.0 1184.8 L276.0 1183.5 L278.0 1182.0 L280.0 1180.1 L282.0 1177.4 L284.0 1174.0 L285.1 1172.0 L286.0 1170.1 L288.0 1164.6 L290.0 1158.1 L292.0 1151.3 L293.3 1147.0 L294.0 1144.8 L296.0 1138.5 L298.0 1132.0 L300.0 1125.0 L300.4 1123.5 L302.0 1117.2 L304.0 1108.4 L305.7 1100.0 L306.0 1098.4 L308.0 1086.0 L309.3 1077.0 L310.0 1071.7 L312.0 1055.2 L312.2 1053.6 L314.0 1040.1 L315.2 1030.0 L316.0 1021.2 L318.0 993.5 L320.0 967.8 L320.4 964.0 L322.0 951.2 L324.0 937.9 L326.0 928.0 L328.0 921.1 L328.5 920.0 L330.0 917.4 L330.7 917.0 L332.0 918.2 L333.0 920.0 L334.0 922.7 L335.3 928.0 L336.0 931.8 L338.0 947.0 L340.0 964.0 L342.0 980.8 L344.0 998.5 L346.0 1015.5 L348.0 1030.0 L350.0 1041.4 L352.0 1051.5 L352.4 1053.6 L354.0 1061.9 L356.0 1072.0 L357.1 1077.3 L358.0 1081.4 L360.0 1090.3 L362.0 1098.6 L362.6 1100.9 L364.0 1106.3 L366.0 1114.0 L368.0 1120.6 L369.5 1124.5 L370.0 1125.6 L372.0 1129.3 L374.0 1132.3 L375.5 1134.0 L376.0 1134.5 L378.0 1136.3 L380.0 1137.6 L381.5 1138.0 L382.0 1138.0 L384.0 1137.4 L386.0 1136.4 L388.0 1135.3 L388.5 1135.0 L390.0 1134.1 L392.0 1132.8 L394.0 1131.3 L396.0 1129.5 L396.5 1129.0 L398.0 1127.3 L400.0 1124.5 L402.0 1121.4 L403.5 1119.0 L404.0 1118.2 L406.0 1114.9 L408.0 1111.5 L410.0 1107.9 L412.0 1104.1 L414.0 1100.0 L414.5 1099.0 L416.0 1095.8 L418.0 1091.3 L420.0 1086.6 L422.0 1081.6 L424.0 1076.4 L426.0 1070.9 L428.0 1065.1 L430.0 1059.0 L432.0 1052.1 L434.0 1044.4 L436.0 1036.2 L438.0 1027.9 L440.0 1019.9 L440.5 1018.0 L442.0 1012.4 L444.0 1004.9 L446.0 997.4 L448.0 990.2 L450.0 983.1 L451.5 978.0 L452.0 976.3 L454.0 969.9 L456.0 963.8 L458.0 957.9 L460.0 951.9 L462.0 945.8 L464.0 939.4 L465.0 936.0 L466.0 932.6 L468.0 925.6 L470.0 918.4 L472.0 910.7 L474.0 902.3 L474.5 900.0 L476.0 892.6 L478.0 881.3 L480.0 869.1 L482.0 856.5 L484.0 844.4 L485.0 838.7 L486.0 833.5 L488.0 823.6 L490.0 812.0 L492.0 794.8 L493.6 780.0 L494.0 776.7 L496.0 761.0 L498.0 746.3 L500.0 732.1 L502.0 718.0 L504.0 703.3 L506.0 687.7 L508.0 670.5 L508.7 664.0 L510.0 650.8 L512.0 627.5 L514.0 602.2 L516.0 576.6 L518.0 552.3 L519.5 536.0 L520.0 531.0 L522.0 512.0 L523.1 503.0 L524.0 496.6 L526.0 483.9 L526.2 482.6 L528.0 469.7 L529.2 462.0 L530.0 457.8 L532.0 448.7 L533.8 441.5 L534.0 440.7 L536.0 433.3 L538.0 426.6 L540.0 421.0 L542.0 416.3 L544.0 412.1 L546.0 408.3 L548.0 404.9 L550.0 401.7 L550.8 400.5 L552.0 398.7 L554.0 395.9 L556.0 393.1 L558.0 390.6 L560.0 388.2 L562.0 386.2 L564.0 384.4 L565.1 383.6 L566.0 383.0 L568.0 382.0 L570.0 381.1 L572.0 380.3 L574.0 379.3 L575.4 378.5 L576.0 378.1 L578.0 376.8 L580.0 375.2 L582.0 373.4 L584.0 371.3 L585.6 369.2 L586.0 368.5 L588.0 362.8 L590.0 357.5 L590.8 356.9 L592.0 357.3 L594.0 359.0 L596.0 360.5 L598.0 361.3 L600.0 361.9 L602.0 362.1 L604.0 361.8 L606.0 361.1 L608.0 360.1 L610.0 359.0 L612.0 357.7 L614.0 356.6 L616.0 355.6 L618.0 355.0 L619.5 354.9 L620.0 355.0 L622.0 356.0 L624.0 357.8 L626.0 359.4 L627.7 360.0 L628.0 360.0 L630.0 359.2 L632.0 357.7 L634.0 356.1 L636.0 355.0 L636.9 354.9 L638.0 354.9 L640.0 355.1 L642.0 355.4 L644.0 355.1 L646.0 355.5 L648.0 355.5 L650.0 355.5 L652.0 355.7 L654.0 355.9 L656.0 355.9 L658.0 356.7 L660.0 356.3 L662.0 357.2 L664.0 357.4 L666.0 357.4 L668.0 357.5 L670.0 357.9 L672.0 358.4 L674.0 358.7 L676.0 358.9 L678.0 359.3 L680.0 359.2 L682.0 359.6 L684.0 359.4 L686.0 360.2 L686.2 360.0 L688.0 360.1 L690.0 360.7 L692.0 360.8 L694.0 360.1 L696.0 361.0 L698.0 360.9 L700.0 361.7 L702.0 362.3 L704.0 361.8 L706.0 362.1 L708.0 362.3 L710.0 362.6 L712.0 362.9 L714.0 363.2 L716.0 362.9 L718.0 363.7 L720.0 363.3 L722.0 363.7 L724.0 364.1 L726.0 364.2 L727.2 363.9 L728.0 364.0 L730.0 364.2 L732.0 364.5 L734.0 364.9 L736.0 364.5 L738.0 365.1 L740.0 365.3 L742.0 365.4 L744.0 365.6 L746.0 366.0 L748.0 365.9 L750.0 366.1 L752.0 366.2 L754.0 366.6 L756.0 365.8 L758.0 366.7 L760.0 366.4 L762.0 366.4 L764.0 366.3 L766.0 366.1 L768.0 366.5 L768.2 366.4 L770.0 366.7 L772.0 366.2 L774.0 366.9 L776.0 366.6 L778.0 366.5 L780.0 366.3 L782.0 366.3 L784.0 366.1 L786.0 366.2 L788.0 366.3 L790.0 366.2 L792.0 365.9 L794.0 366.1 L796.0 365.9 L798.0 366.1 L800.0 366.4 L802.0 366.0 L804.0 365.7 L806.0 365.3 L808.0 365.3 L810.0 365.2 L812.0 365.7 L814.0 365.2 L816.0 365.4 L818.0 365.1 L820.0 365.2 L822.0 365.5 L824.0 364.9 L826.0 364.8 L828.0 364.6 L830.0 364.9 L832.0 364.3 L834.0 364.1 L836.0 363.9 L838.0 363.7 L840.0 364.0 L842.0 364.4 L844.0 363.4 L846.0 363.7 L848.0 363.4 L850.0 362.9 L852.0 363.0 L854.0 362.9 L856.0 362.7 L858.0 363.2 L860.0 362.2 L861.0 362.7 L862.0 362.6 L864.0 362.4 L866.0 362.5 L868.0 362.6 L870.0 362.4 L872.0 362.4 L874.0 362.4 L876.0 361.7 L878.0 362.5 L880.0 362.6 L882.0 362.3 L884.0 362.2 L886.0 361.6 L888.0 361.9 L890.0 361.7 L892.0 361.7 L894.0 362.0 L896.0 361.5 L898.0 361.6 L900.0 361.1 L902.0 361.5 L904.0 361.4 L906.0 361.2 L908.0 361.1 L910.0 361.6 L912.0 360.8 L914.0 360.7 L916.0 360.7 L918.0 361.0 L920.0 361.1 L922.0 360.6 L924.0 360.2 L926.0 360.2 L928.0 360.4 L930.0 359.8 L932.0 360.2 L934.0 360.1 L936.0 359.6 L938.0 359.6 L940.0 359.5 L942.0 359.6 L943.1 358.8 L944.0 359.3 L946.0 358.8 L948.0 358.6 L950.0 358.6 L952.0 358.4 L954.0 358.1 L956.0 357.8 L958.0 357.8 L960.0 358.2 L962.0 358.2 L964.0 357.7 L966.0 357.7 L968.0 357.1 L970.0 357.0 L972.0 356.9 L974.0 356.3 L976.0 356.1 L978.0 356.2 L980.0 355.8 L982.0 355.4 L984.0 355.5 L984.1 355.3 L986.0 355.4 L988.0 354.8 L990.0 354.4 L992.0 354.1 L994.0 353.6 L996.0 353.0 L998.0 352.6 L1000.0 352.4 L1002.0 351.9 L1004.0 351.5 L1006.0 350.3 L1008.0 350.0 L1010.0 349.5 L1012.0 349.1 L1014.0 348.3 L1014.9 348.1 L1016.0 348.1 L1018.0 347.3 L1020.0 346.3 L1022.0 346.2 L1024.0 345.4 L1026.0 344.3 L1028.0 343.8 L1030.0 342.7 L1032.0 342.4 L1034.0 341.4 L1035.4 340.8 L1036.0 340.7 L1038.0 339.9 L1040.0 339.4 L1042.0 338.7 L1044.0 338.0 L1046.0 337.2 L1048.0 335.8 L1050.0 336.3 L1051.8 335.4 L1052.0 335.9 L1054.0 335.8 L1056.0 335.3 L1058.0 334.9 L1060.0 334.7 L1062.0 334.4 L1064.0 334.1 L1066.0 333.9 L1068.0 333.6 L1070.0 333.9 L1072.0 333.5 L1074.0 333.6 L1076.0 333.2 L1078.0 333.2 L1080.0 333.2 L1080.5 333.3 L1082.0 333.4 L1084.0 333.4 L1086.0 333.3 L1088.0 333.4 L1090.0 334.3 L1092.0 334.1 L1094.0 334.4 L1096.0 335.1 L1098.0 335.4 L1100.0 335.6 L1102.0 335.7 L1104.0 336.7 L1106.0 336.5 L1108.0 336.8 L1110.0 336.8 L1112.0 336.7 L1114.0 336.9 L1116.0 337.4 L1117.4 337.4 L1118.0 337.2 L1120.0 337.0 L1122.0 336.9 L1124.0 337.2 L1126.0 336.9 L1128.0 337.5 L1130.0 337.6 L1132.0 338.0 L1134.0 337.5 L1136.0 337.1 L1138.0 337.1 L1140.0 336.4 L1142.0 337.1 L1144.0 337.3 L1146.0 337.6 L1148.0 337.5 L1150.0 337.5 L1152.0 337.4 L1154.0 337.5 L1156.0 337.7 L1158.0 337.0 L1158.5 337.2 L1160.0 336.9 L1162.0 337.7 L1164.0 337.6 L1166.0 337.4 L1168.0 336.8 L1170.0 337.1 L1172.0 336.9 L1174.0 336.9 L1176.0 336.7 L1178.0 336.7 L1180.0 336.3 L1182.0 336.6 L1184.0 336.2 L1186.0 335.9 L1188.0 335.8 L1190.0 335.6 L1192.0 335.8 L1194.0 335.3 L1196.0 335.3 L1198.0 334.9 L1200.0 334.5 L1202.0 335.0 L1204.0 334.2 L1206.0 334.6 L1208.0 334.3 L1210.0 333.4 L1212.0 333.4 L1214.0 333.2 L1216.0 332.9 L1218.0 332.5 L1220.0 332.8 L1222.0 332.3 L1224.0 332.2 L1226.0 331.6 L1228.0 331.6 L1230.0 331.0 L1232.0 330.9 L1234.0 330.8 L1236.0 330.4 L1238.0 329.9 L1240.0 329.5 L1241.0 329.8 L1242.0 329.7 L1244.0 329.2 L1246.0 328.8 L1248.0 329.0 L1250.0 329.4 L1252.0 328.2 L1254.0 328.2 L1256.0 328.0 L1258.0 326.8 L1260.0 327.4 L1262.0 326.9 L1264.0 327.3 L1266.0 326.5 L1268.0 326.1 L1270.0 326.1 L1272.0 325.9 L1274.0 325.4 L1276.0 325.4 L1278.0 324.7 L1280.0 324.8 L1282.0 324.9 L1284.0 325.0 L1286.0 324.3 L1288.0 323.9 L1290.0 323.9 L1292.0 323.6 L1294.0 323.5 L1296.0 323.0 L1298.0 322.3 L1300.0 322.2 L1302.0 321.8 L1304.0 321.6 L1306.0 321.3 L1308.0 320.6 L1310.0 319.9 L1312.0 320.1 L1314.0 319.3 L1316.0 319.8 L1318.0 319.5 L1320.0 318.7 L1322.0 319.3 L1323.0 319.2 L1324.0 318.8 L1326.0 319.1 L1328.0 319.0 L1330.0 317.6 L1332.0 318.2 L1334.0 317.7 L1336.0 317.5 L1338.0 317.4 L1340.0 316.6 L1342.0 316.4 L1344.0 316.1 L1346.0 315.9 L1348.0 315.9 L1350.0 315.2 L1352.0 315.1 L1354.0 315.5 L1356.0 315.1 L1358.0 315.1 L1360.0 314.0 L1362.0 314.3 L1364.0 314.2 L1366.0 314.3 L1368.0 313.9 L1370.0 314.4 L1372.0 313.9 L1374.0 313.8 L1376.0 313.7 L1378.0 313.9 L1380.0 313.3 L1382.0 313.8 L1384.0 313.4 L1386.0 313.1 L1388.0 312.8 L1388.7 312.9 L1390.0 312.9 L1392.0 312.4 L1394.0 311.4 L1396.0 310.8 L1398.0 309.5 L1400.0 308.8 L1402.0 307.1 L1404.0 304.9 L1405.0 305.7 L1406.0 304.4 L1408.0 302.1 L1410.0 300.3 L1412.0 297.6 L1414.0 296.2 L1416.0 292.9 L1417.4 290.1 L1418.0 290.2 L1420.0 286.8 L1422.0 284.5 L1424.0 279.9 L1426.0 276.0 L1428.0 273.8 L1429.7 271.2 L1430.0 270.7 L1432.0 267.3 L1434.0 265.7 L1436.0 263.8 L1438.0 259.9 L1440.0 259.1 L1442.0 256.7 L1444.0 256.3 L1446.0 253.9 L1448.0 252.2 L1450.0 251.7 L1452.0 251.0 L1452.3 250.5 L1454.0 251.1 L1456.0 250.6 L1458.0 250.1 L1460.0 251.8 L1462.0 250.8 L1464.0 250.7 L1466.0 251.2 L1468.0 250.4 L1470.0 250.6 L1470.8 251.0 L1472.0 251.1 L1474.0 251.7 L1476.0 252.7 L1478.0 252.7 L1480.0 254.0 L1482.0 254.9 L1484.0 255.0 L1486.0 256.5 L1487.2 256.5 L1488.0 257.7 L1490.0 258.3 L1492.0 259.0 L1494.0 259.3 L1496.0 261.0 L1498.0 261.5 L1500.0 263.2 L1502.0 263.8 L1504.0 264.3 L1506.0 266.0 L1507.7 266.5 L1508.0 266.0 L1510.0 267.5 L1512.0 267.5 L1514.0 268.2 L1516.0 269.0 L1518.0 269.1 L1520.0 269.9 L1522.0 270.5 L1524.0 271.9 L1526.0 272.4 L1528.0 272.1 L1528.2 273.1 L1530.0 272.8 L1532.0 273.5 L1534.0 274.3 L1536.0 274.6 L1538.0 276.2 L1540.0 275.7 L1542.0 275.5 L1544.0 277.3 L1546.0 276.9 L1548.0 277.5 L1550.0 276.6 L1552.0 279.0 L1554.0 279.4 L1556.0 279.7 L1558.0 280.2 L1560.0 280.8 L1562.0 280.3 L1564.0 281.0 L1566.0 280.4 L1568.0 280.9 L1570.0 281.8 L1572.0 281.7 L1574.0 281.0 L1576.0 282.1 L1578.0 282.0 L1580.0 281.8 L1582.0 282.6 L1584.0 282.4 L1586.0 281.9 L1588.0 282.3 L1590.0 283.9 L1592.0 282.4 L1594.0 283.4 L1596.0 283.7 L1598.0 283.8 L1600.0 283.0 L1602.0 283.6 L1604.0 284.0 L1606.0 284.4 L1608.0 283.8 L1610.0 283.6 L1612.0 284.8 L1614.0 284.9 L1616.0 284.6 L1618.0 284.1 L1620.0 284.6 L1622.0 284.5 L1624.0 284.8 L1626.0 283.7 L1628.0 284.4 L1630.0 284.3 L1632.0 283.8 L1634.0 284.5 L1636.0 284.3 L1638.0 284.1 L1640.0 284.5 L1642.0 283.5 L1644.0 284.2 L1646.0 284.4 L1648.0 284.3 L1650.0 284.7 L1652.0 283.5 L1654.0 283.3 L1656.0 284.2 L1658.0 284.3 L1660.0 285.2 L1662.0 284.3 L1664.0 283.4 L1666.0 284.3 L1668.0 283.4 L1670.0 283.0 L1672.0 285.2 L1674.0 283.9 L1676.0 284.0 L1678.0 283.9 L1680.0 284.5 L1682.0 283.6 L1684.0 284.0 L1686.0 282.6 L1688.0 282.3 L1690.0 283.8 L1692.0 283.6 L1694.0 282.7 L1696.0 282.1 L1698.0 281.5 L1700.0 280.5 L1702.0 281.2 L1704.0 280.2 L1706.0 279.7 L1708.0 279.3 L1710.0 279.6 L1712.0 279.3 L1714.0 279.5 L1716.0 278.5 L1718.0 279.6 L1720.0 280.8 L1722.0 279.3 L1724.0 279.7 L1726.0 280.4 L1728.0 280.5 L1730.0 280.4 L1732.0 279.0 L1734.0 280.1 L1736.0 278.8 L1738.0 278.6 L1740.0 279.0 L1742.0 278.0 L1744.0 278.2 L1746.0 279.0 L1748.0 277.0 L1750.0 276.4 L1752.0 274.8 L1754.0 273.9 L1756.0 272.5 L1758.0 271.7 L1760.0 270.1 L1762.0 269.3 L1764.0 268.7 L1766.0 267.6 L1768.0 267.1 L1770.0 268.2 L1772.0 271.2 L1774.0 272.0 L1776.0 271.8 L1778.0 270.1 L1780.0 267.6 L1782.0 267.4 L1784.0 269.1 L1786.0 274.4 L1788.0 272.3 L1790.0 268.4 L1792.0 264.7 L1794.0 264.2 L1796.0 262.9 L1798.0 263.7 L1800.0 264.9 L1802.0 264.7 L1804.0 264.5 L1806.0 265.5 L1808.0 264.3 L1810.0 262.9 L1812.0 258.1 L1814.0 255.5 L1816.0 256.1 L1818.0 255.0 L1820.0 256.7 L1822.0 255.1 L1824.0 256.7 L1826.0 254.6 L1828.0 255.6 L1830.0 254.2 L1832.0 253.6 L1834.0 253.5 L1836.0 252.4 L1838.0 249.5 L1840.0 249.4 L1842.0 246.7 L1844.0 246.1 L1846.0 245.4 L1848.0 244.9 L1850.0 242.8 L1852.0 244.2 L1854.0 242.4 L1856.0 238.4 L1858.0 235.3 L1860.0 235.4 L1862.0 236.6 L1864.0 238.9 L1866.0 238.8 L1868.0 234.4 L1870.0 228.8 L1871.0 229.0 L1872.0 227.9 L1874.0 228.4 L1876.0 230.6 L1878.0 230.9 L1880.0 231.0 L1882.0 226.4 L1884.0 219.2 L1885.0 218.2 L1886.0 218.7 L1888.0 219.1 L1890.0 219.8 L1892.0 220.3 L1894.0 220.4 L1896.0 220.8 L1898.0 220.2 L1900.0 219.5 L1902.0 220.2 L1904.0 218.7 L1906.0 217.5 L1908.0 216.3 L1909.0 215.2 L1910.0 214.8 L1912.0 214.7 L1914.0 214.1"/>
<path stroke="#ff0000" d="M220.0 1150.0 L221.5 1115.0 L222.0 1108.5 L224.0 1092.0 L226.0 1085.4 L228.0 1081.5 L229.0 1081.0 L230.0 1081.6 L232.0 1085.4 L234.0 1090.0 L236.0 1093.9 L238.0 1098.3 L239.0 1101.0 L240.0 1104.5 L242.0 1113.6 L244.0 1123.2 L244.3 1124.5 L246.0 1131.6 L248.0 1139.7 L250.0 1147.3 L250.2 1148.0 L252.0 1154.4 L254.0 1161.4 L256.0 1167.7 L257.9 1172.5 L258.0 1172.7 L260.0 1176.9 L262.0 1180.3 L264.0 1182.7 L266.0 1184.3 L268.0 1185.6 L270.0 1186.4 L270.9 1186.5 L272.0 1186.4 L274.0 1185.6 L276.0 1184.2 L278.0 1182.7 L280.0 1180.7 L282.0 1177.9 L284.0 1174.6 L285.1 1172.5 L286.0 1170.6 L288.0 1165.2 L290.0 1158.9 L292.0 1152.2 L293.3 1148.0 L294.0 1145.8 L296.0 1139.6 L298.0 1133.1 L300.0 1126.0 L300.4 1124.5 L302.0 1118.2 L304.0 1109.4 L305.7 1100.9 L306.0 1099.2 L308.0 1086.6 L309.3 1077.3 L310.0 1071.9 L312.0 1055.2 L312.2 1053.6 L314.0 1040.3 L315.2 1030.0 L316.0 1020.6 L318.0 990.1 L319.9 964.0 L320.0 963.0 L322.0 944.1 L324.0 928.8 L325.1 922.0 L326.0 917.1 L328.0 909.0 L330.0 904.5 L330.7 904.0 L332.0 905.3 L333.5 909.0 L334.0 910.9 L335.7 922.0 L336.0 924.2 L338.0 941.5 L340.0 960.5 L340.4 964.0 L342.0 978.1 L344.0 995.9 L346.0 1012.9 L348.0 1028.0 L348.3 1030.0 L350.0 1040.5 L352.0 1051.5 L352.4 1053.6 L354.0 1062.0 L356.0 1072.0 L357.1 1077.3 L358.0 1081.5 L360.0 1090.7 L362.0 1099.3 L362.4 1100.9 L364.0 1107.3 L366.0 1115.0 L368.0 1121.8 L368.9 1124.5 L370.0 1127.6 L372.0 1132.7 L374.0 1136.9 L375.0 1138.5 L376.0 1139.8 L378.0 1142.4 L380.0 1144.1 L381.5 1144.6 L382.0 1144.6 L384.0 1144.0 L386.0 1142.8 L388.0 1141.4 L389.0 1140.7 L390.0 1140.0 L392.0 1138.2 L394.0 1136.1 L396.0 1133.7 L396.7 1132.8 L398.0 1131.0 L400.0 1127.7 L402.0 1124.1 L402.8 1122.6 L404.0 1120.4 L406.0 1116.8 L408.0 1113.0 L410.0 1109.0 L412.0 1104.6 L413.1 1102.0 L414.0 1099.8 L416.0 1094.3 L418.0 1088.3 L420.0 1081.9 L422.0 1075.2 L424.0 1068.4 L426.0 1061.6 L427.9 1055.3 L428.0 1055.0 L430.0 1048.4 L432.0 1041.8 L434.0 1035.0 L436.0 1028.1 L438.0 1021.1 L438.3 1020.0 L440.0 1013.8 L442.0 1006.2 L444.0 998.5 L446.0 990.7 L448.0 982.8 L448.7 980.0 L450.0 974.9 L452.0 967.0 L454.0 959.0 L456.0 950.8 L458.0 942.5 L459.5 936.0 L460.0 933.8 L462.0 924.9 L464.0 915.6 L466.0 906.0 L467.2 900.0 L468.0 895.9 L470.0 885.5 L472.0 874.8 L474.0 863.6 L476.0 851.8 L478.0 839.3 L478.1 838.7 L480.0 825.3 L481.8 812.0 L482.0 810.6 L484.0 796.4 L486.0 781.6 L486.2 780.0 L488.0 765.5 L490.0 748.8 L492.0 731.5 L494.0 713.5 L496.0 694.9 L498.0 675.8 L499.2 664.0 L500.0 656.0 L502.0 635.1 L504.0 613.3 L506.0 590.8 L508.0 568.0 L510.0 545.1 L510.8 536.0 L512.0 521.9 L514.0 498.0 L515.4 482.6 L516.0 476.5 L518.0 457.7 L520.0 440.0 L521.0 431.3 L522.0 422.7 L524.0 406.0 L526.0 389.7 L527.2 380.0 L528.0 373.4 L530.0 356.8 L531.3 347.7 L532.0 343.6 L534.0 333.0 L536.0 324.5 L536.4 323.1 L538.0 318.2 L540.0 313.0 L542.0 308.5 L544.0 304.0 L544.6 302.6 L546.0 299.2 L548.0 294.4 L550.0 289.8 L552.0 285.6 L552.8 284.1 L554.0 281.9 L556.0 278.4 L558.0 275.1 L560.0 272.0 L562.0 269.3 L564.0 266.8 L565.1 265.6 L566.0 264.7 L568.0 263.0 L570.0 261.5 L572.0 260.1 L574.0 258.6 L575.4 257.4 L576.0 256.9 L578.0 255.1 L580.0 253.2 L582.0 251.1 L584.0 248.6 L585.6 246.2 L586.0 245.4 L588.0 238.7 L590.0 232.5 L590.8 231.8 L592.0 232.3 L594.0 234.3 L596.0 236.0 L598.0 236.9 L600.0 237.6 L602.0 237.9 L604.0 237.6 L606.0 236.8 L608.0 235.7 L610.0 234.2 L612.0 232.7 L614.0 231.1 L614.4 230.8 L616.0 229.0 L618.0 226.4 L619.5 225.6 L620.0 225.7 L622.0 227.2 L624.0 229.7 L626.0 232.0 L627.7 232.8 L628.0 232.8 L630.0 231.8 L632.0 230.0 L634.0 228.1 L636.0 226.9 L636.9 226.7 L638.0 226.7 L640.0 226.9 L642.0 227.2 L644.0 226.4 L646.0 226.8 L648.0 226.7 L650.0 226.9 L652.0 226.9 L654.0 227.0 L656.0 226.8 L658.0 226.9 L660.0 226.8 L662.0 226.8 L664.0 227.0 L666.0 227.1 L668.0 226.9 L670.0 227.6 L672.0 227.2 L674.0 227.0 L676.0 227.7 L678.0 227.3 L680.0 227.6 L682.0 227.6 L684.0 227.7 L686.0 227.7 L686.2 227.6 L688.0 227.8 L690.0 228.4 L692.0 227.4 L694.0 228.1 L696.0 228.3 L698.0 228.1 L700.0 228.2 L702.0 229.2 L704.0 228.8 L706.0 229.6 L708.0 229.4 L710.0 229.5 L712.0 229.7 L714.0 230.0 L716.0 230.3 L718.0 230.3 L720.0 230.3 L722.0 230.5 L724.0 230.9 L726.0 230.9 L727.2 230.6 L728.0 230.7 L730.0 231.0 L732.0 230.9 L734.0 231.1 L736.0 231.1 L738.0 231.4 L740.0 231.7 L742.0 231.9 L744.0 231.8 L746.0 232.4 L748.0 232.0 L750.0 232.9 L752.0 232.5 L754.0 232.4 L756.0 232.3 L758.0 231.8 L760.0 232.5 L762.0 232.7 L764.0 233.2 L766.0 232.4 L768.0 233.2 L770.0 232.7 L772.0 233.0 L772.3 232.2 L774.0 232.8 L776.0 232.7 L778.0 232.9 L780.0 232.8 L782.0 232.4 L784.0 232.9 L786.0 232.8 L788.0 232.7 L790.0 232.8 L792.0 232.7 L794.0 232.4 L796.0 232.0 L798.0 231.9 L800.0 232.5 L802.0 232.3 L804.0 232.1 L806.0 231.8 L808.0 231.9 L810.0 231.8 L812.0 231.6 L814.0 231.4 L816.0 232.0 L818.0 231.5 L820.0 231.2 L822.0 230.9 L824.0 230.9 L826.0 231.1 L828.0 230.9 L830.0 230.5 L832.0 230.3 L834.0 230.0 L836.0 229.6 L838.0 230.0 L840.0 229.5 L842.0 229.8 L844.0 228.7 L846.0 228.7 L848.0 228.7 L850.0 228.2 L852.0 227.7 L854.0 227.6 L856.0 227.6 L858.0 227.5 L860.0 227.2 L861.0 227.4 L862.0 227.4 L864.0 227.1 L866.0 226.9 L868.0 226.7 L870.0 226.8 L872.0 226.8 L874.0 226.5 L876.0 226.5 L878.0 226.2 L880.0 225.9 L882.0 225.9 L884.0 226.2 L886.0 226.1 L888.0 226.3 L890.0 225.8 L892.0 225.9 L894.0 225.9 L896.0 225.7 L898.0 225.2 L900.0 225.2 L902.0 225.1 L904.0 224.7 L906.0 224.9 L908.0 224.9 L910.0 224.4 L912.0 224.8 L914.0 224.0 L916.0 223.8 L918.0 223.6 L920.0 223.3 L922.0 223.4 L924.0 223.1 L926.0 223.2 L928.0 222.8 L930.0 222.5 L932.0 222.1 L934.0 221.6 L936.0 221.7 L938.0 221.3 L940.0 221.5 L942.0 221.1 L943.1 221.4 L944.0 221.1 L946.0 220.9 L948.0 220.6 L950.0 220.4 L952.0 220.3 L954.0 220.2 L956.0 219.7 L958.0 219.8 L960.0 220.2 L962.0 219.3 L964.0 219.1 L966.0 218.8 L968.0 218.4 L970.0 218.9 L972.0 218.4 L974.0 218.3 L976.0 218.4 L978.0 218.3 L980.0 217.3 L982.0 217.5 L984.0 217.1 L984.1 217.0 L986.0 216.7 L988.0 216.2 L990.0 216.2 L992.0 215.6 L994.0 215.0 L996.0 214.8 L998.0 214.2 L1000.0 213.5 L1002.0 212.9 L1004.0 212.7 L1006.0 211.7 L1008.0 211.0 L1010.0 210.1 L1012.0 209.6 L1014.0 208.7 L1014.9 208.7 L1016.0 208.4 L1018.0 207.0 L1020.0 206.7 L1022.0 205.9 L1024.0 204.8 L1026.0 203.5 L1028.0 203.1 L1030.0 201.6 L1032.0 200.6 L1034.0 199.8 L1035.4 199.5 L1036.0 199.5 L1038.0 198.8 L1040.0 197.8 L1042.0 196.8 L1044.0 196.3 L1046.0 195.6 L1048.0 195.3 L1049.7 194.6 L1050.0 195.0 L1052.0 194.8 L1054.0 194.2 L1056.0 194.1 L1058.0 193.4 L1060.0 193.0 L1062.0 193.0 L1064.0 193.2 L1066.0 193.0 L1068.0 192.4 L1070.0 192.7 L1072.0 192.3 L1074.0 192.7 L1074.4 192.4 L1076.0 192.2 L1078.0 192.6 L1080.0 192.4 L1082.0 192.5 L1084.0 192.6 L1086.0 193.3 L1088.0 193.4 L1090.0 193.7 L1092.0 193.9 L1094.0 194.7 L1096.0 194.5 L1098.0 194.6 L1100.0 195.3 L1102.0 195.5 L1104.0 195.4 L1106.0 195.0 L1107.2 195.2 L1108.0 195.6 L1110.0 195.4 L1112.0 195.8 L1114.0 195.1 L1116.0 195.6 L1118.0 195.2 L1120.0 195.7 L1122.0 195.4 L1124.0 195.7 L1126.0 195.2 L1128.0 195.0 L1130.0 195.1 L1132.0 195.2 L1134.0 195.1 L1136.0 195.7 L1138.0 195.8 L1140.0 195.5 L1142.0 195.1 L1144.0 195.4 L1146.0 195.2 L1148.0 195.8 L1150.0 195.5 L1152.0 195.5 L1154.0 195.3 L1156.0 194.8 L1158.0 195.2 L1160.0 195.1 L1162.0 195.5 L1164.0 195.4 L1166.0 195.2 L1168.0 195.3 L1168.7 195.8 L1170.0 195.1 L1172.0 195.1 L1174.0 195.2 L1176.0 195.0 L1178.0 195.0 L1180.0 195.2 L1182.0 195.4 L1184.0 194.2 L1186.0 194.5 L1188.0 194.4 L1190.0 194.2 L1192.0 194.0 L1194.0 193.7 L1196.0 194.0 L1198.0 193.3 L1200.0 193.3 L1202.0 193.1 L1204.0 193.0 L1206.0 192.7 L1208.0 192.8 L1210.0 192.2 L1212.0 192.1 L1214.0 191.7 L1216.0 191.2 L1218.0 191.0 L1220.0 190.6 L1222.0 190.7 L1224.0 190.2 L1226.0 189.8 L1228.0 189.9 L1230.0 189.7 L1232.0 188.7 L1234.0 189.6 L1236.0 188.8 L1238.0 188.5 L1240.0 188.7 L1241.0 188.2 L1242.0 187.9 L1244.0 188.6 L1246.0 187.3 L1248.0 187.4 L1250.0 187.6 L1252.0 186.7 L1254.0 186.9 L1256.0 186.8 L1258.0 187.3 L1260.0 186.0 L1262.0 186.1 L1264.0 186.2 L1266.0 185.8 L1268.0 185.2 L1270.0 185.5 L1272.0 185.2 L1274.0 185.1 L1276.0 185.2 L1278.0 184.9 L1280.0 184.5 L1282.0 184.2 L1284.0 183.5 L1286.0 183.5 L1288.0 183.4 L1290.0 182.9 L1292.0 182.7 L1294.0 182.1 L1296.0 182.6 L1298.0 182.5 L1300.0 181.3 L1302.0 181.2 L1304.0 180.7 L1306.0 180.9 L1308.0 180.2 L1310.0 179.8 L1312.0 179.4 L1314.0 179.2 L1316.0 178.5 L1318.0 178.8 L1320.0 178.0 L1322.0 178.2 L1323.0 177.9 L1324.0 178.2 L1326.0 177.5 L1328.0 177.7 L1330.0 176.7 L1332.0 177.1 L1334.0 176.6 L1336.0 176.5 L1338.0 176.3 L1340.0 176.4 L1342.0 175.1 L1344.0 175.8 L1346.0 174.9 L1348.0 175.7 L1350.0 174.3 L1352.0 174.5 L1354.0 174.1 L1356.0 175.1 L1358.0 173.8 L1360.0 174.2 L1362.0 173.8 L1364.0 173.1 L1366.0 173.5 L1368.0 173.7 L1370.0 173.3 L1372.0 173.6 L1374.0 173.0 L1376.0 173.0 L1378.0 172.7 L1380.0 172.8 L1382.0 173.3 L1384.0 172.5 L1386.0 172.2 L1388.0 171.6 L1388.7 171.5 L1390.0 172.2 L1392.0 170.7 L1394.0 170.2 L1396.0 169.9 L1398.0 169.0 L1400.0 169.1 L1402.0 166.3 L1404.0 166.3 L1405.0 165.9 L1406.0 164.5 L1408.0 162.9 L1410.0 161.0 L1412.0 158.9 L1414.0 155.0 L1416.0 151.7 L1417.4 150.7 L1418.0 150.0 L1420.0 145.9 L1422.0 141.4 L1424.0 139.0 L1426.0 134.4 L1428.0 131.1 L1429.7 127.7 L1430.0 127.0 L1432.0 123.6 L1434.0 120.9 L1436.0 117.6 L1438.0 113.0 L1440.0 110.8 L1442.0 110.0 L1444.0 107.4 L1446.0 105.3 L1448.0 104.5 L1450.0 103.5 L1452.0 103.1 L1452.3 102.9 L1454.0 103.0 L1456.0 102.9 L1458.0 103.3 L1460.0 102.8 L1462.0 103.1 L1464.0 103.2 L1466.0 103.9 L1468.0 103.6 L1470.0 103.4 L1470.8 103.7 L1472.0 103.8 L1474.0 104.6 L1476.0 105.1 L1478.0 106.7 L1480.0 107.7 L1482.0 108.3 L1484.0 109.4 L1486.0 111.1 L1487.2 111.5 L1488.0 111.6 L1490.0 112.0 L1492.0 112.9 L1494.0 114.9 L1496.0 116.1 L1498.0 117.2 L1500.0 117.2 L1502.0 119.3 L1504.0 119.5 L1506.0 120.9 L1507.7 121.7 L1508.0 121.3 L1510.0 122.2 L1512.0 122.4 L1514.0 123.8 L1516.0 124.2 L1518.0 126.1 L1520.0 126.7 L1522.0 127.9 L1524.0 128.4 L1526.0 128.6 L1528.0 129.8 L1528.2 129.5 L1530.0 130.6 L1532.0 131.2 L1534.0 131.3 L1536.0 132.5 L1538.0 133.2 L1540.0 133.8 L1542.0 135.0 L1544.0 136.1 L1546.0 135.7 L1548.0 136.3 L1550.0 136.0 L1552.0 137.5 L1554.0 137.9 L1556.0 137.4 L1558.0 139.0 L1559.0 139.3 L1560.0 138.8 L1562.0 139.2 L1564.0 139.2 L1566.0 140.2 L1568.0 139.3 L1570.0 140.1 L1572.0 141.4 L1574.0 140.6 L1576.0 141.0 L1578.0 140.8 L1580.0 140.4 L1582.0 141.2 L1584.0 141.6 L1586.0 141.0 L1588.0 141.9 L1590.0 142.6 L1592.0 142.8 L1594.0 141.8 L1596.0 142.5 L1598.0 142.5 L1600.0 144.3 L1602.0 144.5 L1604.0 145.0 L1606.0 144.5 L1608.0 144.7 L1610.0 145.6 L1612.0 145.9 L1614.0 145.5 L1616.0 146.1 L1618.0 146.3 L1620.0 146.1 L1622.0 145.4 L1624.0 144.8 L1626.0 145.8 L1628.0 146.0 L1630.0 145.8 L1632.0 145.6 L1634.0 145.5 L1636.0 146.2 L1638.0 145.8 L1640.0 145.8 L1642.0 145.2 L1644.0 145.4 L1646.0 145.8 L1648.0 145.1 L1650.0 144.9 L1652.0 145.4 L1654.0 146.2 L1656.0 145.6 L1658.0 146.3 L1660.0 145.4 L1662.0 145.2 L1664.0 144.6 L1666.0 145.0 L1668.0 146.1 L1670.0 145.5 L1672.0 145.6 L1674.0 145.6 L1676.0 145.1 L1678.0 144.9 L1680.0 145.1 L1682.0 145.3 L1684.0 145.0 L1686.0 144.8 L1688.0 144.4 L1690.0 143.6 L1692.0 143.7 L1694.0 143.0 L1696.0 143.8 L1698.0 141.8 L1700.0 142.6 L1702.0 143.8 L1704.0 142.1 L1706.0 141.5 L1708.0 142.0 L1710.0 142.7 L1712.0 142.0 L1714.0 142.6 L1716.0 142.5 L1718.0 142.5 L1720.0 144.8 L1722.0 143.3 L1724.0 143.3 L1726.0 143.5 L1728.0 144.2 L1730.0 144.2 L1732.0 144.4 L1734.0 143.8 L1736.0 142.6 L1738.0 143.4 L1740.0 142.5 L1742.0 142.0 L1744.0 140.8 L1746.0 140.8 L1748.0 140.1 L1750.0 140.0 L1752.0 138.4 L1754.0 138.3 L1756.0 137.3 L1758.0 135.3 L1760.0 134.4 L1762.0 133.2 L1764.0 133.4 L1766.0 130.7 L1768.0 131.8 L1770.0 132.5 L1772.0 136.2 L1774.0 138.5 L1776.0 136.4 L1778.0 134.1 L1780.0 130.7 L1782.0 131.2 L1784.0 133.6 L1786.0 136.7 L1788.0 133.6 L1790.0 130.3 L1792.0 128.2 L1794.0 125.9 L1796.0 125.9 L1798.0 126.4 L1800.0 125.6 L1802.0 127.1 L1804.0 126.8 L1806.0 127.2 L1808.0 126.6 L1810.0 124.7 L1812.0 119.1 L1814.0 117.6 L1816.0 117.7 L1818.0 117.6 L1820.0 117.3 L1822.0 117.4 L1824.0 115.3 L1826.0 117.5 L1828.0 116.8 L1830.0 117.1 L1832.0 116.4 L1834.0 114.6 L1836.0 113.5 L1838.0 112.5 L1840.0 111.3 L1842.0 108.5 L1844.0 107.4 L1846.0 108.5 L1848.0 106.7 L1850.0 108.4 L1852.0 106.7 L1854.0 105.4 L1856.0 102.9 L1858.0 100.1 L1860.0 98.7 L1862.0 102.0 L1864.0 102.2 L1866.0 104.0 L1868.0 98.5 L1870.0 91.2 L1871.0 91.3 L1872.0 91.7 L1874.0 93.2 L1876.0 93.9 L1878.0 94.1 L1880.0 93.8 L1882.0 89.1 L1884.0 82.2 L1885.0 80.4 L1886.0 80.8 L1888.0 79.5 L1890.0 81.6 L1892.0 81.9 L1894.0 84.0 L1896.0 83.2 L1898.0 82.6 L1900.0 83.4 L1902.0 81.6 L1904.0 80.5 L1906.0 77.6 L1908.0 77.8 L1909.0 76.4 L1910.0 74.4 L1912.0 73.6 L1914.0 72.7"/>
</g>
<rect x="858.5" y="984" width="410" height="313" fill="#fff" stroke="#f6f6f6" stroke-width="3"/>
<g stroke-width="6.6" fill="none">
<path stroke="#0000ff" d="M874 1021 H1026"/>
<path stroke="#000" d="M874 1100.5 H1026"/>
<path stroke="#ff00ff" d="M874 1179.5 H1026"/>
<path stroke="#ff0000" d="M874 1258.5 H1026"/>
</g>
<g class="leg">
<text x="1038" y="1043.3">S1-900</text>
<text x="1038" y="1122.8">S1-1000</text>
<text x="1038" y="1201.8">S2</text>
<text x="1038" y="1280.8">S3</text>
</g>
<rect x="1270.0" y="808" width="558.0" height="84" fill="#4472c4"/>
<rect x="1270.0" y="892" width="558.0" height="82" fill="#e9ebf5"/>
<rect x="1270.0" y="974" width="558.0" height="80.5" fill="#ffffff"/>
<rect x="1270.0" y="1054.5" width="558.0" height="82.0" fill="#e9ebf5"/>
<rect x="1270.0" y="1136.5" width="558.0" height="82.0" fill="#ffffff"/>
<rect x="1270.0" y="1218.5" width="558.0" height="80.5" fill="#e9ebf5"/>
<g stroke="#628ad3" stroke-width="3.2" fill="none">
<rect x="1270.0" y="808" width="558.0" height="491"/>
<path d="M1270.0 974 H1828.0 M1270.0 1054.5 H1828.0 M1270.0 1136.5 H1828.0 M1270.0 1218.5 H1828.0"/>
</g>
<g class="tb" text-anchor="middle">
<text x="1549.0" y="865">Elementary composition</text>
<text x="1340.8" y="947">Cr</text>
<text x="1480.2" y="947">Ti</text>
<text x="1619.8" y="947">Co</text>
<text x="1759.2" y="947">Fe</text>
<text class="td" x="1340.8" y="1030">100</text>
<text class="td" x="1480.2" y="1030">-</text>
<text class="td" x="1619.8" y="1030">-</text>
<text class="td" x="1759.2" y="1030">-</text>
<text class="td" x="1340.8" y="1112">100</text>
<text class="td" x="1480.2" y="1112">-</text>
<text class="td" x="1619.8" y="1112">-</text>
<text class="td" x="1759.2" y="1112">-</text>
<text class="td" x="1340.8" y="1194">100</text>
<text class="td" x="1480.2" y="1194">2</text>
<text class="td" x="1619.8" y="1194">-</text>
<text class="td" x="1759.2" y="1194">-</text>
<text class="td" x="1340.8" y="1275">100</text>
<text class="td" x="1480.2" y="1275">4</text>
<text class="td" x="1619.8" y="1275">-</text>
<text class="td" x="1759.2" y="1275">-</text>
</g>
</svg>
</body></html>
